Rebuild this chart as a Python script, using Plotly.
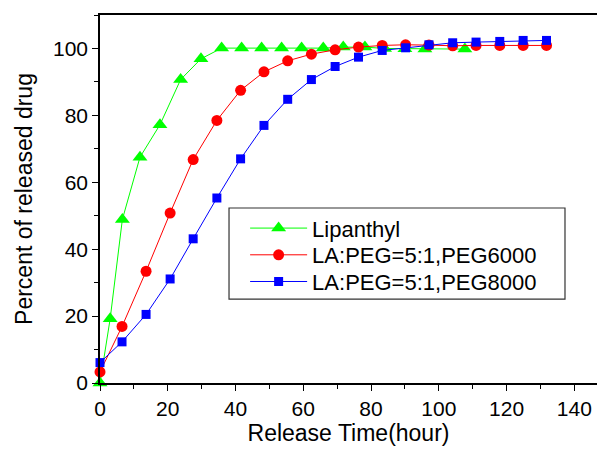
import plotly.graph_objects as go

# Data
time_lipanthyl = [0, 3, 6.6, 11.8, 17.7, 23.8, 29.8, 35.9, 41.8, 47.7, 53.6, 59.5,
                  65.9, 71.8, 78.2, 84, 90, 95.9, 107.7]
release_lipanthyl = [0, 19.2, 48.9, 67.5, 77.2, 90.7, 96.9, 100.1, 100.1, 100.1, 100.1,
                     100.1, 100.1, 100.4, 100.4, 100.0, 99.9, 99.8, 99.8]

time_peg = [0, 6.5, 13.6, 20.7, 27.5, 34.5, 41.5, 48.4, 55.4, 62.4, 69.4, 76.3,
            83.3, 90.2, 97.1, 104.1, 111.0, 118.0, 124.9, 131.8]
release_peg6000 = [3.3, 16.9, 33.4, 50.8, 66.8, 78.5, 87.5, 93.0, 96.3, 98.3, 99.6,
                   100.4, 100.9, 101.1, 101.0, 100.8, 100.9, 100.9, 100.9, 100.9]
release_peg8000 = [6.1, 12.3, 20.5, 31.1, 43.1, 55.3, 67.0, 77.0, 84.8, 90.7, 94.6,
                   97.4, 99.4, 100.2, 101.1, 101.7, 101.9, 102.1, 102.4, 102.4]

series_names = ["Lipanthyl", "LA:PEG=5:1,PEG6000", "LA:PEG=5:1,PEG8000"]

fig = go.Figure()
fig.add_trace(go.Scatter(
    x=time_lipanthyl, y=release_lipanthyl, name=series_names[0], mode="lines+markers",
    line=dict(color="#00ff00", width=1),
    marker=dict(symbol="triangle-up", size=13, color="#00ff00"),
    cliponaxis=False, legend="legend"))
fig.add_trace(go.Scatter(
    x=time_peg, y=release_peg6000, name=series_names[1], mode="lines+markers",
    line=dict(color="#ff0000", width=1),
    marker=dict(symbol="circle", size=11, color="#ff0000"),
    cliponaxis=False, legend="legend2"))
fig.add_trace(go.Scatter(
    x=time_peg, y=release_peg8000, name=series_names[2], mode="lines+markers",
    line=dict(color="#0000ff", width=1),
    marker=dict(symbol="square", size=9, color="#0000ff"),
    cliponaxis=False, legend="legend3"))

font_family = "Liberation Sans, Arial, sans-serif"

legend_common = dict(
    x=0.292, xanchor="left", yanchor="middle",
    bgcolor="rgba(0,0,0,0)", borderwidth=0,
    font=dict(size=22, family=font_family),
    itemwidth=57,
)

fig.update_layout(
    width=597, height=449,
    margin=dict(l=100, r=0, t=15, b=66),
    paper_bgcolor="white", plot_bgcolor="white",
    font=dict(family=font_family, color="black"),
    showlegend=True,
    legend=dict(y=0.4204, **legend_common),
    legend2=dict(y=0.3478, **legend_common),
    legend3=dict(y=0.2753, **legend_common),
    shapes=[dict(type="rect", xref="paper", yref="paper",
                 x0=0.2596, x1=0.9356, y0=0.228, y1=0.4755,
                 line=dict(color="#333333", width=1.2), fillcolor="white",
                 layer="above")],
)
# keep the legend box behind the legends but above data
fig.layout.shapes[0].fillcolor = "rgba(0,0,0,0)"

fig.update_xaxes(
    range=[0, 146.7],
    tickmode="linear", tick0=0, dtick=20,
    ticks="outside", ticklen=6, tickwidth=1.2, tickcolor="black",
    minor=dict(dtick=10, ticks="outside", ticklen=4, tickwidth=1.2, tickcolor="black"),
    showline=True, linecolor="black", linewidth=1.5, mirror=True,
    showgrid=False, zeroline=False,
    tickfont=dict(size=21),
    title=dict(text="Release Time(hour)", font=dict(size=23), standoff=6),
)
fig.update_yaxes(
    range=[0, 110],
    tickmode="linear", tick0=0, dtick=20,
    ticks="outside", ticklen=6, tickwidth=1.2, tickcolor="black",
    minor=dict(dtick=10, ticks="outside", ticklen=4, tickwidth=1.2, tickcolor="black"),
    showline=True, linecolor="black", linewidth=1.5,
    showgrid=False, zeroline=False,
    tickfont=dict(size=21),
    title=dict(text="Percent of released drug", font=dict(size=23), standoff=14),
)

fig.write_html("out.html", config={"displayModeBar": False},
               post_script="document.body.style.margin='0';")
